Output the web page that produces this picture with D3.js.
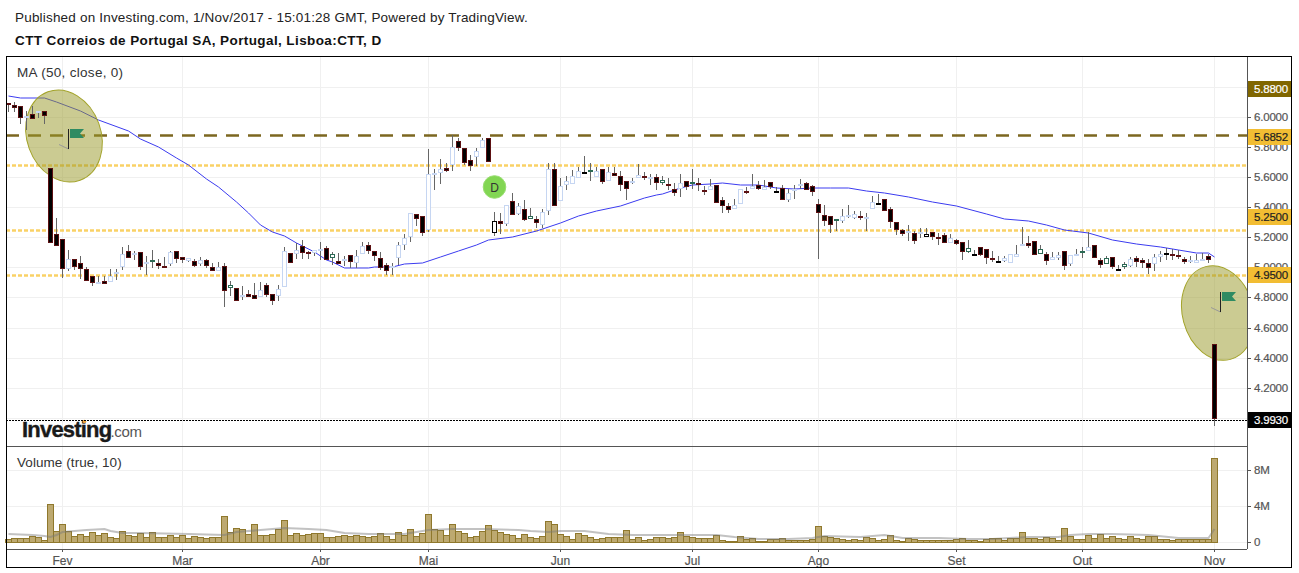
<!DOCTYPE html>
<html>
<head>
<meta charset="utf-8">
<script src="https://cdn.jsdelivr.net/npm/d3@7"></script>
<style>
  html, body { margin: 0; padding: 0; background: #fff; }
  svg { display: block; font-family: "Liberation Sans", Arial, sans-serif; }
</style>
</head>
<body>
<svg id="drawing_region"></svg>
<script>
// daily candles, index 0 = first visible session, 201 = 1 Nov 2017
const opens = [
  6.094,6.081,6.072,5.992,6.021,6.034,6.041,5.662,5.223,5.190,
  4.990,5.057,5.030,4.990,4.944,4.902,4.910,4.904,4.964,5.003,
  5.108,5.090,5.103,5.030,5.043,5.030,5.010,5.023,5.110,5.070,
  5.041,5.043,5.023,5.050,5.003,4.977,5.010,4.864,4.864,4.811,
  4.824,4.817,4.804,4.884,4.824,4.811,4.870,5.097,5.090,5.143,
  5.105,5.097,5.119,5.130,5.061,5.043,5.050,5.083,5.030,5.090,
  5.150,5.110,5.063,5.017,5.006,5.063,5.150,5.203,5.356,5.342,
  5.247,5.615,5.628,5.662,5.682,5.841,5.795,5.715,5.735,5.795,
  5.861,5.229,5.309,5.289,5.442,5.356,5.389,5.323,5.323,5.283,
  5.376,5.655,5.442,5.549,5.555,5.595,5.635,5.642,5.602,5.655,
  5.575,5.628,5.608,5.575,5.569,5.595,5.608,5.601,5.602,5.562,
  5.556,5.522,5.522,5.576,5.562,5.562,5.516,5.516,5.549,5.449,
  5.407,5.390,5.423,5.507,5.522,5.549,5.516,5.569,5.510,5.529,
  5.447,5.514,5.542,5.562,5.542,5.423,5.350,5.343,5.310,5.310,
  5.343,5.330,5.343,5.330,5.390,5.429,5.456,5.390,5.303,5.250,
  5.237,5.230,5.223,5.203,5.237,5.203,5.217,5.163,5.183,5.170,
  5.104,5.077,5.137,5.124,5.064,5.044,5.041,5.030,5.070,5.144,
  5.163,5.177,5.091,5.091,5.050,5.064,5.110,5.024,5.088,5.104,
  5.110,5.150,5.050,5.024,5.070,4.991,5.004,5.010,5.064,5.050,
  5.030,5.024,5.070,5.095,5.091,5.084,5.057,5.037,5.030,5.044,
  5.077,4.492
];
const highs = [
  6.094,6.098,6.072,6.038,6.072,6.041,6.041,5.662,5.329,5.190,
  5.119,5.057,5.074,5.003,4.944,4.941,4.941,4.990,4.990,5.136,
  5.152,5.108,5.103,5.074,5.116,5.057,5.070,5.112,5.110,5.070,
  5.061,5.057,5.070,5.057,5.026,5.037,5.030,4.910,4.864,4.879,
  4.853,4.893,4.902,4.893,4.824,4.884,5.136,5.097,5.163,5.185,
  5.110,5.116,5.167,5.141,5.105,5.096,5.079,5.083,5.119,5.172,
  5.167,5.110,5.105,5.030,5.026,5.172,5.225,5.362,5.356,5.342,
  5.784,5.655,5.721,5.695,5.881,5.861,5.795,5.748,5.792,5.861,
  5.861,5.369,5.362,5.418,5.495,5.429,5.451,5.398,5.340,5.391,
  5.695,5.695,5.595,5.606,5.646,5.668,5.744,5.695,5.668,5.655,
  5.666,5.668,5.642,5.575,5.595,5.688,5.635,5.622,5.622,5.611,
  5.596,5.562,5.618,5.576,5.655,5.596,5.540,5.589,5.549,5.467,
  5.429,5.452,5.522,5.536,5.624,5.573,5.578,5.569,5.536,5.551,
  5.518,5.545,5.585,5.569,5.551,5.452,5.414,5.343,5.323,5.390,
  5.412,5.374,5.378,5.363,5.474,5.485,5.456,5.403,5.303,5.257,
  5.279,5.243,5.261,5.263,5.237,5.230,5.230,5.221,5.190,5.170,
  5.179,5.115,5.137,5.124,5.108,5.079,5.079,5.091,5.150,5.270,
  5.212,5.177,5.146,5.104,5.104,5.104,5.110,5.084,5.123,5.137,
  5.237,5.150,5.064,5.075,5.070,5.019,5.037,5.070,5.079,5.064,
  5.057,5.091,5.108,5.130,5.123,5.119,5.070,5.075,5.086,5.097,
  5.091,4.492
];
const lows = [
  6.032,6.032,5.956,5.912,5.985,5.992,5.952,5.163,5.143,4.930,
  4.975,4.986,4.924,4.910,4.875,4.890,4.890,4.904,4.915,4.981,
  5.063,5.048,4.981,4.952,4.995,4.990,5.003,5.008,5.026,5.030,
  5.039,5.003,5.012,4.997,4.977,4.977,4.738,4.813,4.777,4.786,
  4.804,4.791,4.804,4.804,4.749,4.777,4.870,5.030,5.057,5.057,
  5.057,5.074,5.052,5.052,5.017,5.021,5.012,4.997,4.997,5.090,
  5.090,5.041,4.981,4.950,4.950,5.019,5.114,5.167,5.274,5.212,
  5.234,5.513,5.557,5.637,5.639,5.772,5.682,5.639,5.673,5.795,
  5.702,5.212,5.221,5.274,5.349,5.351,5.307,5.323,5.263,5.263,
  5.347,5.409,5.442,5.513,5.555,5.595,5.624,5.577,5.602,5.553,
  5.575,5.608,5.506,5.451,5.557,5.595,5.582,5.551,5.513,5.551,
  5.514,5.474,5.467,5.514,5.522,5.507,5.483,5.516,5.429,5.363,
  5.363,5.390,5.423,5.491,5.522,5.514,5.514,5.522,5.500,5.449,
  5.434,5.456,5.522,5.516,5.474,5.053,5.274,5.230,5.245,5.296,
  5.327,5.325,5.314,5.241,5.390,5.412,5.376,5.265,5.214,5.208,
  5.175,5.155,5.194,5.203,5.181,5.148,5.163,5.163,5.150,5.046,
  5.093,5.077,5.075,5.022,5.035,5.030,5.035,5.026,5.070,5.144,
  5.130,5.084,5.086,5.017,5.046,5.048,4.982,5.008,5.084,5.061,
  5.110,5.064,4.997,5.022,4.991,4.982,4.991,5.002,5.004,4.995,
  4.955,4.975,5.035,5.052,5.048,5.057,5.022,5.030,5.026,5.042,
  5.026,3.945
];
const closes = [
  6.087,6.058,5.992,6.010,5.985,6.041,6.005,5.163,5.143,4.990,
  5.057,5.003,4.990,4.910,4.897,4.906,4.890,4.944,4.972,5.090,
  5.063,5.094,5.003,5.037,5.048,5.008,5.003,5.103,5.057,5.050,
  5.061,5.010,5.050,5.010,4.977,5.003,4.844,4.884,4.777,4.815,
  4.804,4.791,4.851,4.817,4.777,4.857,5.110,5.030,5.116,5.097,
  5.090,5.116,5.123,5.052,5.088,5.021,5.054,5.034,5.077,5.141,
  5.110,5.074,4.997,4.977,5.010,5.150,5.196,5.362,5.323,5.229,
  5.622,5.628,5.655,5.642,5.801,5.795,5.695,5.675,5.775,5.848,
  5.702,5.309,5.289,5.416,5.349,5.409,5.316,5.342,5.296,5.369,
  5.655,5.409,5.542,5.575,5.608,5.642,5.628,5.648,5.642,5.569,
  5.635,5.608,5.549,5.522,5.575,5.615,5.595,5.603,5.562,5.582,
  5.549,5.496,5.562,5.536,5.569,5.556,5.503,5.542,5.429,5.409,
  5.383,5.416,5.522,5.500,5.542,5.522,5.536,5.534,5.508,5.449,
  5.496,5.518,5.556,5.516,5.503,5.363,5.310,5.283,5.323,5.343,
  5.350,5.356,5.334,5.336,5.436,5.423,5.376,5.303,5.250,5.221,
  5.243,5.177,5.237,5.223,5.203,5.190,5.163,5.197,5.155,5.104,
  5.130,5.090,5.084,5.064,5.048,5.035,5.064,5.091,5.091,5.157,
  5.144,5.084,5.123,5.044,5.070,5.084,5.010,5.084,5.091,5.110,
  5.137,5.064,5.017,5.064,5.004,4.987,5.024,5.057,5.037,5.030,
  4.997,5.070,5.091,5.091,5.084,5.070,5.035,5.050,5.050,5.057,
  5.048,3.993
];
// sessions the source paints with a green or a black body outline
const greenSessions = [24,37,54,87,97,109,114,138,160,172,179,183,186];
const blackSessions = [81,96,128,145,153,161,165,185,193];

// volume in millions
const volumes = [
  .30,.41,.48,.48,.70,.59,.26,4.24,1.25,2.03,
  1.18,.70,.92,.70,1.14,.81,1.03,.59,.48,1.25,
  .81,.70,1.03,.59,1.14,.59,.59,.81,.59,.81,
  .48,.70,.59,.48,.59,.59,2.92,1.14,1.59,1.48,
  .92,2.03,.81,.81,.92,1.48,2.47,.81,1.03,.81,
  .92,1.03,1.03,.59,.59,.70,.81,.70,.81,.70,
  .59,.70,1.03,.70,.37,1.14,.81,1.48,.70,1.03,
  3.14,1.48,1.37,.81,2.03,1.25,1.03,.59,.70,1.25,
  1.92,1.37,1.14,.92,.81,.48,.92,.59,.48,.70,
  2.36,2.03,.92,.70,.37,1.03,.81,.59,.37,.48,
  .59,.59,.59,1.37,.37,.59,.26,.37,.59,.59,
  .48,.59,1.14,.70,.59,.48,.48,.48,.81,.26,
  .15,.15,.70,.37,.48,.15,.15,.37,.37,.48,
  .26,.26,.26,.26,.37,1.81,.70,.59,.48,.37,
  .26,.37,.26,.59,.48,.26,.37,.81,.26,.15,
  .48,.37,.26,.26,.26,.26,.26,.26,.37,.48,
  .26,.26,.15,.37,.48,.48,.26,.48,.48,1.14,
  .48,.48,.37,.59,.48,.26,1.59,.70,.37,.37,
  .81,.48,.92,.48,.70,.48,.37,.70,.48,.37,
  .70,.70,.37,.37,.26,.37,.37,.37,.37,.37,
  .37,9.34
];

// moving averages, read at the sessions listed
const maSessions = [0,2,6,8,12,15,20,22,25,28,30,33,35,38,40,42,44,46,48,51,53,54,56,60,61,64,66,69,72,75,78,80,84,88,92,95,98,102,106,108,109,112,114,117,119,122,125,128,131,134,137,140,143,146,150,154,158,163,166,170,173,176,180,184,188,192,195,198,200,201];
const maValues = [6.138,6.127,6.125,6.098,6.043,5.983,5.908,5.857,5.801,5.730,5.682,5.591,5.533,5.436,5.363,5.285,5.238,5.207,5.159,5.101,5.052,5.034,4.997,4.997,5.003,5.003,5.021,5.030,5.072,5.110,5.147,5.183,5.205,5.245,5.292,5.340,5.376,5.407,5.460,5.480,5.491,5.529,5.551,5.556,5.562,5.551,5.547,5.531,5.518,5.527,5.529,5.525,5.509,5.494,5.469,5.436,5.407,5.358,5.325,5.310,5.279,5.250,5.228,5.181,5.157,5.135,5.117,5.097,5.093,5.068];
const volMaSessions = [0,4,6,7,8,9,11,13,16,17,19,22,30,36,38,42,46,50,53,54,56,60,66,70,74,79,85,87,90,92,96,100,104,109,115,118,121,125,130,134,136,142,146,149,155,160,163,164,170,175,177,180,184,190,195,200,201];
const volMaValues = [.85,.74,.66,.59,.81,1.11,1.22,1.37,1.48,1.22,1.03,1.03,.89,.74,1.11,1.37,1.51,1.44,1.29,1.22,.96,.92,.85,1.29,1.48,1.48,1.33,1.22,1.11,1.18,1.22,.85,.74,.74,.74,.81,.55,.37,.37,.48,.66,.55,.74,.48,.44,.37,.37,.37,.59,.52,.77,.85,.89,.74,.48,.48,1.48];

// axis ticks
const priceTicks = [4.0,4.2,4.4,4.6,4.8,5.0,5.2,5.4,5.6,5.8,6.0,6.2];
const volumeTicks = [0,4,8];
const monthSessions = [9,29,52,70,92,114,135,158,179,201];
const monthLabels = ['Fev','Mar','Abr','Mai','Jun','Jul','Ago','Set','Out','Nov'];

// horizontal levels and their axis tags
const brownLevels = [5.88];
const yellowLevels = [5.68,5.25,4.95];
const lastClose = 3.993;
const tagLevels = [5.88,5.68,5.25,4.95,3.993];
const tagLabels = ['5.8800','5.6852','5.2500','4.9500','3.9930'];

// drawn annotations
const flagSessions = [10,202];
const flagPrices = [5.785,4.705];
const ellipseSessions = [9.4,201.67];
const ellipsePrices = [5.877,4.697];
const dividendSession = 81;
const dividendPrice = 5.537;

const width = 1299, height = 573;
const left = 6, right = 1247, frameRight = 1292;
const priceTop = 56, priceBottom = 446, volBottom = 549, frameBottom = 568;

const svg = d3.select('#drawing_region')
    .attr('width', width)
    .attr('height', height);

svg.append('defs').append('clipPath').attr('id', 'price_clip')
  .append('rect')
    .attr('x', left + 1).attr('y', priceTop + 1)
    .attr('width', right - left - 1).attr('height', priceBottom - priceTop - 1);

const xscale = d3.scaleLinear().domain([0, 201]).rangeRound([8, 1214]);
const yscale = d3.scaleLinear().domain([3.8125, 6.399]).rangeRound([446, 57]);
const vscale = d3.scaleLinear().domain([-0.778, 10.556]).rangeRound([549, 447]);

// header
svg.append('text').attr('x', 15).attr('y', 22)
    .attr('font-size', 13.5).attr('letter-spacing', 0.19).attr('fill', '#222')
    .text('Published on Investing.com, 1/Nov/2017 - 15:01:28 GMT, Powered by TradingView.');
svg.append('text').attr('x', 15).attr('y', 45)
    .attr('font-size', 13.5).attr('letter-spacing', 0.4).attr('font-weight', 'bold').attr('fill', '#111')
    .text('CTT Correios de Portugal SA, Portugal, Lisboa:CTT, D');

// gridlines
const gridColor = '#f0f0f0';
function gridX(y0, y1) {
  const g = svg.append('g')
      .attr('transform', `translate(0, ${y1})`)
      .call(d3.axisBottom(xscale).tickValues(monthSessions).tickSize(y0 - y1).tickFormat(''));
  g.select('.domain').remove();
  g.selectAll('line').attr('stroke', gridColor);
}
gridX(priceBottom, priceTop + 1);
gridX(volBottom, priceBottom + 1);

const priceGrid = svg.append('g')
    .attr('transform', `translate(${right}, 0)`)
    .call(d3.axisLeft(yscale).tickValues(priceTicks).tickSize(right - left - 1).tickFormat(''));
priceGrid.select('.domain').remove();
priceGrid.selectAll('line').attr('stroke', gridColor);

const volGrid = svg.append('g')
    .attr('transform', `translate(${right}, 0)`)
    .call(d3.axisLeft(vscale).tickValues(volumeTicks).tickSize(right - left - 1).tickFormat(''));
volGrid.select('.domain').remove();
volGrid.selectAll('line').attr('stroke', gridColor);

// logo
const logo = svg.append('text').attr('x', 22).attr('y', 437);
logo.append('tspan')
    .attr('font-size', 22).attr('font-weight', 'bold').attr('fill', '#1a1a1a')
    .attr('stroke', '#1a1a1a').attr('stroke-width', 0.4)
    .attr('letter-spacing', -0.8)
    .text('Investing');
logo.append('tspan')
    .attr('font-size', 15).attr('fill', '#555').attr('dx', -1).attr('letter-spacing', -0.3)
    .text('.com');
svg.append('circle').attr('cx', 84.5).attr('cy', 421.5).attr('r', 1.8).attr('fill', '#f2a33a');

const plot = svg.append('g').attr('clip-path', 'url(#price_clip)');

// level lines
plot.selectAll('.yellow').data(yellowLevels).join('line')
    .attr('x1', left).attr('x2', right)
    .attr('y1', d => yscale(d) + 0.5).attr('y2', d => yscale(d) + 0.5)
    .attr('stroke', '#f7c540').attr('stroke-opacity', 0.8).attr('stroke-width', 2.5)
    .attr('stroke-dasharray', '4 2');
plot.selectAll('.brown').data(brownLevels).join('line')
    .attr('x1', left).attr('x2', right)
    .attr('y1', d => yscale(d) + 0.5).attr('y2', d => yscale(d) + 0.5)
    .attr('stroke', '#6e5608').attr('stroke-opacity', 0.9).attr('stroke-width', 2.5)
    .attr('stroke-dasharray', '13 9');
plot.append('line')
    .attr('x1', left).attr('x2', right)
    .attr('y1', yscale(lastClose) + 1.5).attr('y2', yscale(lastClose) + 1.5)
    .attr('stroke', '#000').attr('stroke-dasharray', '2 1');

// moving average
const maLine = d3.line().x(d => xscale(d[0]) + 0.5).y(d => yscale(d[1]));
plot.append('path')
    .attr('d', maLine(maSessions.map((d, i) => [d, maValues[i]])))
    .attr('fill', 'none').attr('stroke', '#3c3cf0').attr('stroke-width', 1);

// highlight ellipses sit over the lines but under the candles
plot.selectAll('.mark').data(ellipseSessions).join('ellipse')
    .attr('transform', (d, i) => `translate(${xscale(d)}, ${yscale(ellipsePrices[i])}) rotate(${i ? -15 : -20})`)
    .attr('rx', (d, i) => i ? 35.5 : 37)
    .attr('ry', (d, i) => i ? 48 : 47)
    .attr('fill', 'rgba(152,152,38,0.5)')
    .attr('stroke', '#a3a32a').attr('stroke-width', 1);

// candles
const sessions = d3.range(opens.length);
plot.selectAll('.wick').data(sessions).join('line')
    .attr('x1', d => xscale(d) + 0.5).attr('x2', d => xscale(d) + 0.5)
    .attr('y1', d => yscale(highs[d])).attr('y2', d => yscale(lows[d]))
    .attr('stroke', '#666');

function bodyStroke(d) {
  if (greenSessions.includes(d)) return '#2b6a55';
  if (blackSessions.includes(d)) return '#000';
  return closes[d] >= opens[d] ? '#c6d6f2' : '#5c1012';
}
function bodyFill(d) {
  if (greenSessions.includes(d) || blackSessions.includes(d)) return '#fff';
  return closes[d] >= opens[d] ? '#fff' : '#000';
}
plot.selectAll('.body').data(sessions).join('rect')
    .attr('x', d => xscale(d) - 1.5)
    .attr('width', 4)
    .attr('y', d => yscale(Math.max(opens[d], closes[d])) + 0.5)
    .attr('height', d => Math.max(yscale(Math.min(opens[d], closes[d])) - yscale(Math.max(opens[d], closes[d])) - 1, 1))
    .attr('fill', bodyFill)
    .attr('stroke', bodyStroke);

// flags
const flags = plot.selectAll('.flag').data(flagSessions).join('g')
    .attr('transform', (d, i) => `translate(${xscale(d)}, ${yscale(flagPrices[i])})`);
flags.append('line')
    .attr('x1', 0.5).attr('x2', -9).attr('y1', 0).attr('y2', -4.5)
    .attr('stroke', '#999');
flags.append('line')
    .attr('x1', 0.5).attr('x2', 0.5).attr('y1', 0).attr('y2', -20)
    .attr('stroke', '#222');
flags.append('path')
    .attr('d', 'M2,-20H16L12,-15.5L16,-11H2Z')
    .attr('fill', '#2e8b62');

// dividend badge
const badge = svg.append('g')
    .attr('transform', `translate(${xscale(dividendSession) + 0.5}, ${yscale(dividendPrice)})`);
badge.append('circle').attr('r', 11.3)
    .attr('fill', '#82d653').attr('stroke', '#9ade72');
badge.append('text').attr('text-anchor', 'middle').attr('y', 4.5)
    .attr('font-size', 12).attr('fill', '#333').text('D');

// volume pane
svg.selectAll('.vol').data(sessions).join('rect')
    .attr('x', d => xscale(d) - 2.5)
    .attr('width', 6)
    .attr('y', d => vscale(volumes[d]) + 0.5)
    .attr('height', d => vscale(0) - vscale(volumes[d]))
    .attr('fill', '#bda970')
    .attr('stroke', '#8f782c');
const volLine = d3.line().x(d => xscale(d[0]) + 0.5).y(d => vscale(d[1]));
svg.append('path')
    .attr('d', volLine(volMaSessions.map((d, i) => [d, volMaValues[i]])))
    .attr('fill', 'none').attr('stroke', '#777').attr('stroke-opacity', 0.45).attr('stroke-width', 2);

// pane legends
svg.append('text').attr('x', 17).attr('y', 77).attr('font-size', 13.5).attr('letter-spacing', 0.3).attr('fill', '#333').text('MA (50, close, 0)');
svg.append('text').attr('x', 17).attr('y', 467).attr('font-size', 13.5).attr('letter-spacing', 0.07).attr('fill', '#333').text('Volume (true, 10)');

// axes
const axisColor = '#555';
const priceAxis = svg.append('g')
    .attr('transform', `translate(${right}, 0)`)
    .call(d3.axisRight(yscale).tickValues(priceTicks).tickSize(4).tickPadding(3).tickFormat(d => d.toFixed(4)));
const volAxis = svg.append('g')
    .attr('transform', `translate(${right}, 0)`)
    .call(d3.axisRight(vscale).tickValues(volumeTicks).tickSize(4).tickPadding(3).tickFormat(d => d ? d + 'M' : '0'));
const timeAxis = svg.append('g')
    .attr('transform', `translate(0, ${volBottom})`)
    .call(d3.axisBottom(xscale).tickValues(monthSessions).tickSize(3).tickPadding(4)
      .tickFormat((d, i) => monthLabels[i]));
[priceAxis, volAxis, timeAxis].forEach(a => {
  a.select('.domain').remove();
  a.selectAll('line').attr('stroke', axisColor);
  a.selectAll('text').attr('fill', axisColor).attr('font-family', '"Liberation Sans", Arial, sans-serif')
      .attr('font-size', 11.5).attr('letter-spacing', -0.2)
      .attr('stroke', axisColor).attr('stroke-width', 0.2);
});
timeAxis.selectAll('text').attr('font-size', 12).attr('letter-spacing', 0);

svg.append('line').attr('x1', left).attr('x2', right).attr('y1', priceBottom + 0.5).attr('y2', priceBottom + 0.5).attr('stroke', axisColor);
svg.append('line').attr('x1', left).attr('x2', right).attr('y1', volBottom + 0.5).attr('y2', volBottom + 0.5).attr('stroke', axisColor);
svg.append('line').attr('x1', right + 0.5).attr('x2', right + 0.5).attr('y1', priceTop).attr('y2', volBottom).attr('stroke', axisColor);

// axis tags for the levels; the source nudges them apart so they need not sit on the line
const tagNudge = [-46, -28, -13, 0, 1];
const tagFill = ['#806600', '#f2bd33', '#f2bd33', '#f2bd33', '#000'];
const tagInk = ['#fff', '#222', '#222', '#222', '#fff'];
const tags = svg.selectAll('.tag').data(tagLevels).join('g')
    .attr('transform', (d, i) => `translate(${right + 1}, ${yscale(d) + tagNudge[i]})`);
tags.append('rect').attr('y', -8).attr('width', 44).attr('height', 16).attr('fill', (d, i) => tagFill[i]);
tags.append('text').attr('x', 6).attr('y', 4.3).attr('font-size', 11.5).attr('letter-spacing', -0.2)
    .attr('stroke', (d, i) => tagInk[i]).attr('stroke-width', 0.2)
    .attr('fill', (d, i) => tagInk[i]).text((d, i) => tagLabels[i]);

// outer frame
svg.append('rect')
    .attr('x', left + 0.5).attr('y', priceTop + 0.5)
    .attr('width', frameRight - left - 1).attr('height', frameBottom - priceTop - 1)
    .attr('fill', 'none').attr('stroke', '#000');
</script>
</body>
</html>
